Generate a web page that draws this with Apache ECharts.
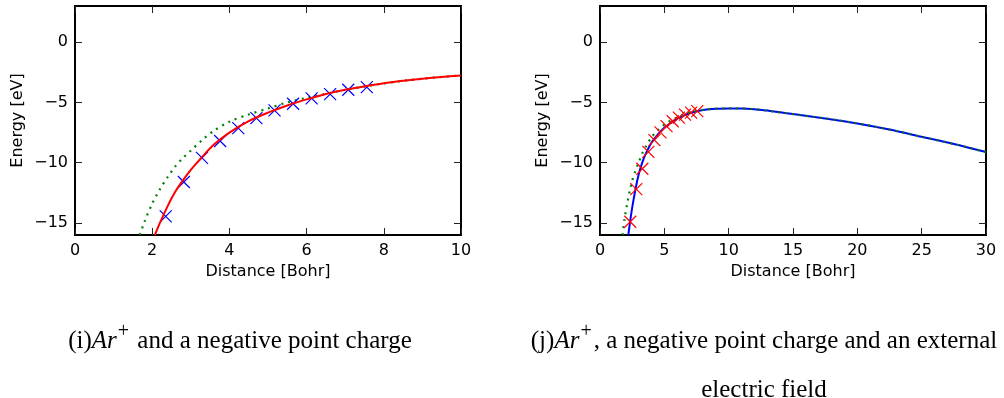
<!DOCTYPE html>
<html>
<head>
<meta charset="utf-8">
<script src="https://cdn.jsdelivr.net/npm/echarts@6/dist/echarts.min.js"></script>
<style>
  html, body { margin: 0; padding: 0; background: #fff; }
  #chart { width: 1004px; height: 398px; }
</style>
</head>
<body>
<div id="chart"></div>
<script>
// panel (i): Ar+ and a negative point charge
const redX = [2.07, 2.2, 2.4, 2.6, 2.8, 3.0, 3.3, 3.6, 4.0, 4.5, 5.0, 5.5, 6.0, 6.5, 7.0, 7.5, 8.0, 8.5, 9.0, 9.5, 10];
const redY = [-16, -15.0, -13.6, -12.4, -11.45, -10.6, -9.5, -8.5, -7.5, -6.55, -5.85, -5.25, -4.75, -4.3, -3.95, -3.67, -3.4, -3.2, -3.03, -2.89, -2.76];
const greenX = [1.68, 1.8, 2.0, 2.2, 2.4, 2.6, 2.8, 3.0, 3.3, 3.6, 4.0, 4.5, 5.0, 5.5, 6.0, 6.5, 7.0, 7.5, 8.0, 9.0, 10];
const greenY = [-16, -14.9, -13.4, -12.2, -11.2, -10.3, -9.6, -9.0, -8.1, -7.35, -6.6, -6.0, -5.5, -5.0, -4.62, -4.28, -3.95, -3.68, -3.42, -3.03, -2.76];
const crossX = [2.35, 2.82, 3.29, 3.76, 4.23, 4.70, 5.17, 5.65, 6.13, 6.61, 7.08, 7.56];
const crossY = [-14.45, -11.6, -9.6, -8.2, -7.13, -6.3, -5.66, -5.11, -4.67, -4.31, -3.95, -3.73];

// panel (j): Ar+, a negative point charge and an external electric field
const blueX = [2.2, 2.35, 2.5, 2.75, 3.0, 3.25, 3.5, 4.0, 4.5, 5.0, 5.5, 6.0, 7.0, 8.0, 9.0, 10, 11, 12, 13, 14, 15, 17.5, 20, 22.5, 25, 27.5, 30];
const blueY = [-16, -14.8, -13.75, -12.25, -11.0, -10.1, -9.4, -8.35, -7.65, -7.1, -6.7, -6.35, -5.88, -5.63, -5.52, -5.5, -5.5, -5.56, -5.68, -5.82, -5.97, -6.33, -6.74, -7.25, -7.85, -8.45, -9.12];
const green2X = [1.75, 1.9, 2.1, 2.3, 2.5, 2.75, 3.0, 3.3, 3.6, 4.0, 4.5, 5.0, 5.5, 6.0, 7.0, 8.0, 9.0, 10, 11, 12, 13, 14, 15, 17.5, 20, 22.5, 25, 27.5, 30];
const green2Y = [-16, -14.7, -13.5, -12.4, -11.5, -10.7, -10.0, -9.2, -8.6, -7.9, -7.3, -6.85, -6.5, -6.25, -5.85, -5.62, -5.52, -5.5, -5.5, -5.56, -5.68, -5.82, -5.97, -6.33, -6.74, -7.25, -7.85, -8.45, -9.12];
const cross2X = [2.35, 2.82, 3.29, 3.76, 4.23, 4.70, 5.17, 5.65, 6.13, 6.61, 7.08, 7.56];
const cross2Y = [-14.9, -12.2, -10.5, -9.1, -8.13, -7.48, -6.97, -6.56, -6.26, -6.01, -5.85, -5.72];

const yTicks = [-15, -10, -5, 0];

const pairs = (xs, ys) => xs.map((x, i) => [x, ys[i]]);
const sans = 'DejaVu Sans';
const serif = 'Liberation Serif';
const plotW = 386, plotH = 229, tickLen = 7;
const noLine = { show: false, onZero: false };
const minus = v => (v < 0 ? '\u2212' + Math.abs(v) : String(v));
const crossPath = 'path://M0,0L10,10M10,0L0,10';

// inward ticks on both sides: a split line dashed so only its two ends show
const tickLines = span => ({
  show: true,
  lineStyle: { color: '#222', width: 1, type: [tickLen, span - 2 * tickLen] }
});

function xAxis(grid, max, interval) {
  return {
    type: 'value', gridIndex: grid, min: 0, max: max, interval: interval,
    position: 'bottom',
    axisLine: noLine, axisTick: { show: false },
    splitLine: tickLines(plotH),
    axisLabel: { show: true, margin: 8, fontFamily: sans, fontSize: 16, color: '#000' },
    name: 'Distance [Bohr]', nameLocation: 'middle', nameGap: 28,
    nameTextStyle: { fontFamily: sans, fontSize: 16, color: '#000' }
  };
}

function yAxis(grid) {
  return {
    type: 'value', gridIndex: grid, min: -16, max: 3,
    position: 'left',
    axisLine: noLine,
    axisTick: { show: false, customValues: yTicks },
    splitLine: tickLines(plotW),
    axisLabel: { show: true, customValues: yTicks, formatter: minus, margin: 7, fontFamily: sans, fontSize: 16, color: '#000' },
    name: 'Energy [eV]', nameLocation: 'middle', nameGap: 49,
    nameTextStyle: { fontFamily: sans, fontSize: 16, color: '#000' }
  };
}

function curve(idx, data, color, dotted, z) {
  return {
    type: 'line', xAxisIndex: idx, yAxisIndex: idx, data: data,
    showSymbol: false, smooth: 0.3, z: z, silent: true,
    lineStyle: dotted
      ? { color: color, width: 2.2, type: [2, 5] }
      : { color: color, width: 2 }
  };
}

function crosses(idx, data, color, z) {
  return {
    type: 'scatter', xAxisIndex: idx, yAxisIndex: idx, data: data,
    symbol: crossPath, symbolSize: 12, z: z, silent: true,
    itemStyle: { color: 'none', borderColor: color, borderWidth: 1.2, opacity: 1 }
  };
}

const rich = {
  n: { fontFamily: serif, fontSize: 25, color: '#000', verticalAlign: 'bottom' },
  it: { fontFamily: serif, fontSize: 25, fontStyle: 'italic', color: '#000', verticalAlign: 'bottom' },
  sup: { fontFamily: serif, fontSize: 20, color: '#000', verticalAlign: 'bottom', padding: [0, 2, 12, 1] }
};

const chart = echarts.init(document.getElementById('chart'), null, { renderer: 'canvas' });
chart.setOption({
  backgroundColor: '#fff',
  animation: false,
  grid: [
    { left: 75, top: 6, width: plotW, height: plotH, show: true, borderColor: '#000', borderWidth: 2 },
    { left: 600, top: 6, width: plotW, height: plotH, show: true, borderColor: '#000', borderWidth: 2 }
  ],
  xAxis: [xAxis(0, 10, 2), xAxis(1, 30, 5)],
  yAxis: [yAxis(0), yAxis(1)],
  series: [
    curve(0, pairs(greenX, greenY), '#008000', true, 2),
    crosses(0, pairs(crossX, crossY), '#0000ff', 3),
    curve(0, pairs(redX, redY), '#ff0000', false, 4),
    curve(1, pairs(blueX, blueY), '#0000ff', false, 2),
    curve(1, pairs(green2X, green2Y), '#008000', true, 3),
    crosses(1, pairs(cross2X, cross2Y), '#ff0000', 4)
  ],
  graphic: [
    {
      type: 'text', silent: true,
      style: { x: 240, y: 354, align: 'center', verticalAlign: 'bottom',
        text: '{n|(i)}{it|Ar}{sup|+}{n| and a negative point charge}', rich: rich }
    },
    {
      type: 'text', silent: true,
      style: { x: 764, y: 354, align: 'center', verticalAlign: 'bottom',
        text: '{n|(j)}{it|Ar}{sup|+}{n|, a negative point charge and an external}', rich: rich }
    },
    {
      type: 'text', silent: true,
      style: { x: 764, y: 403, align: 'center', verticalAlign: 'bottom',
        text: '{n|electric field}', rich: rich }
    }
  ]
});
</script>
</body>
</html>
